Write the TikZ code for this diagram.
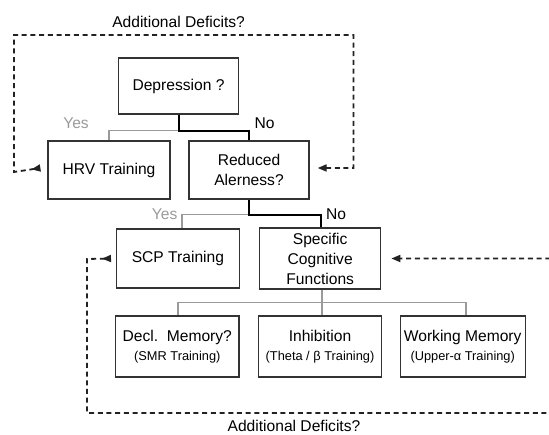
\documentclass[tikz,border=0pt]{standalone}
\usepackage{fontspec}
\setmainfont{Liberation Sans}
\usetikzlibrary{arrows.meta,calc}
\definecolor{boxc}{HTML}{333333}
\definecolor{greyc}{HTML}{9A9A9A}
\definecolor{dashc}{HTML}{222222}
\begin{document}
\begin{tikzpicture}[x=1pt,y=-1pt,
  box/.style={draw=boxc, line width=1.3pt, inner sep=0pt, align=center,
    font=\fontsize{15.6}{20}\selectfont},
  yesline/.style={draw=greyc, line width=1.5pt},
  noline/.style={draw=black, line width=2pt},
  lbl/.style={font=\fontsize{15.6}{20}\selectfont, inner sep=0pt},
  dloop/.style={draw=dashc, line width=1.8pt, dash pattern=on 5pt off 3.7pt}]
\useasboundingbox (0,0) rectangle (549,435);
\newcommand{\sm}[1]{{\fontsize{12.8}{16}\selectfont #1}}

\node[box, minimum width=120.5pt, minimum height=56pt] (dep) at (178.5,86) {Depression ?};
\node[box, minimum width=122pt, minimum height=58pt] (hrv) at (109,170) {HRV Training};
\node[box, minimum width=120pt, minimum height=58pt] (red) at (249,170) {Reduced\\Alerness?};
\node[box, minimum width=122.5pt, minimum height=59pt] (scp) at (177.9,258.5) {SCP Training};
\node[box, minimum width=121pt, minimum height=61pt] (spec) at (320.2,258.5) {Specific\\Cognitive\\Functions};
\node[box, minimum width=123.6pt, minimum height=61pt] (decl) at (177.3,346.5) {Decl.\ \ Memory?\\[-1pt]\sm{(SMR Training)}};
\node[box, minimum width=123.3pt, minimum height=61pt] (inh) at (320,346.5) {Inhibition\\[-1pt]\sm{(Theta / β Training)}};
\node[box, minimum width=125pt, minimum height=61pt] (wm) at (462.7,346.5) {Working Memory\\[-1pt]\sm{(Upper-α Training)}};

% first decision
\draw[yesline] (dep.south) -- ++(0,16) -| (hrv.north);
\draw[noline] (dep.south) -- ++(0,16) -| (red.north);
\node[lbl, text=greyc] (y1) at (76,123) {Yes};
\node[lbl] (n1) at (264.5,123) {No};

% second decision
\draw[yesline] (red.south) -- ++(0,15) -| ([xshift=4pt]scp.north);
\draw[noline] (red.south) -- ++(0,15) -| ([xshift=0.8pt]spec.north);
\node[lbl, text=greyc] (y2) at (164.6,214) {Yes};
\node[lbl] (n2) at (336,214) {No};

% tree
\draw[yesline] ([xshift=1.8pt]spec.south) -- ++(0,13) coordinate (tj);
\draw[yesline] (tj) -| ([xshift=0.7pt]decl.north);
\draw[yesline] (tj) -| ([xshift=2pt]inh.north);
\draw[yesline] (tj) -| ([xshift=3.5pt]wm.north);

% dashed loops
\draw[dloop, {Triangle[reversed,length=9pt,width=7pt]}-{Triangle[length=9pt,width=7pt]}]
  ([xshift=-7pt,yshift=2pt]hrv.west) -- (14,172) |- (353.5,35) |- ([xshift=8pt,yshift=2pt]red.east);
\node[lbl] (ad1) at (178.6,22) {Additional Deficits?};

\draw[dloop, {Triangle[reversed,length=9pt,width=7pt]}-{Triangle[length=9pt,width=7pt]}]
  ([xshift=-5pt]scp.west) -- (87,259) |- (560,413) |- ([xshift=10pt]spec.east);
\node[lbl] (ad2) at (294,426) {Additional Deficits?};
\end{tikzpicture}
\end{document}
